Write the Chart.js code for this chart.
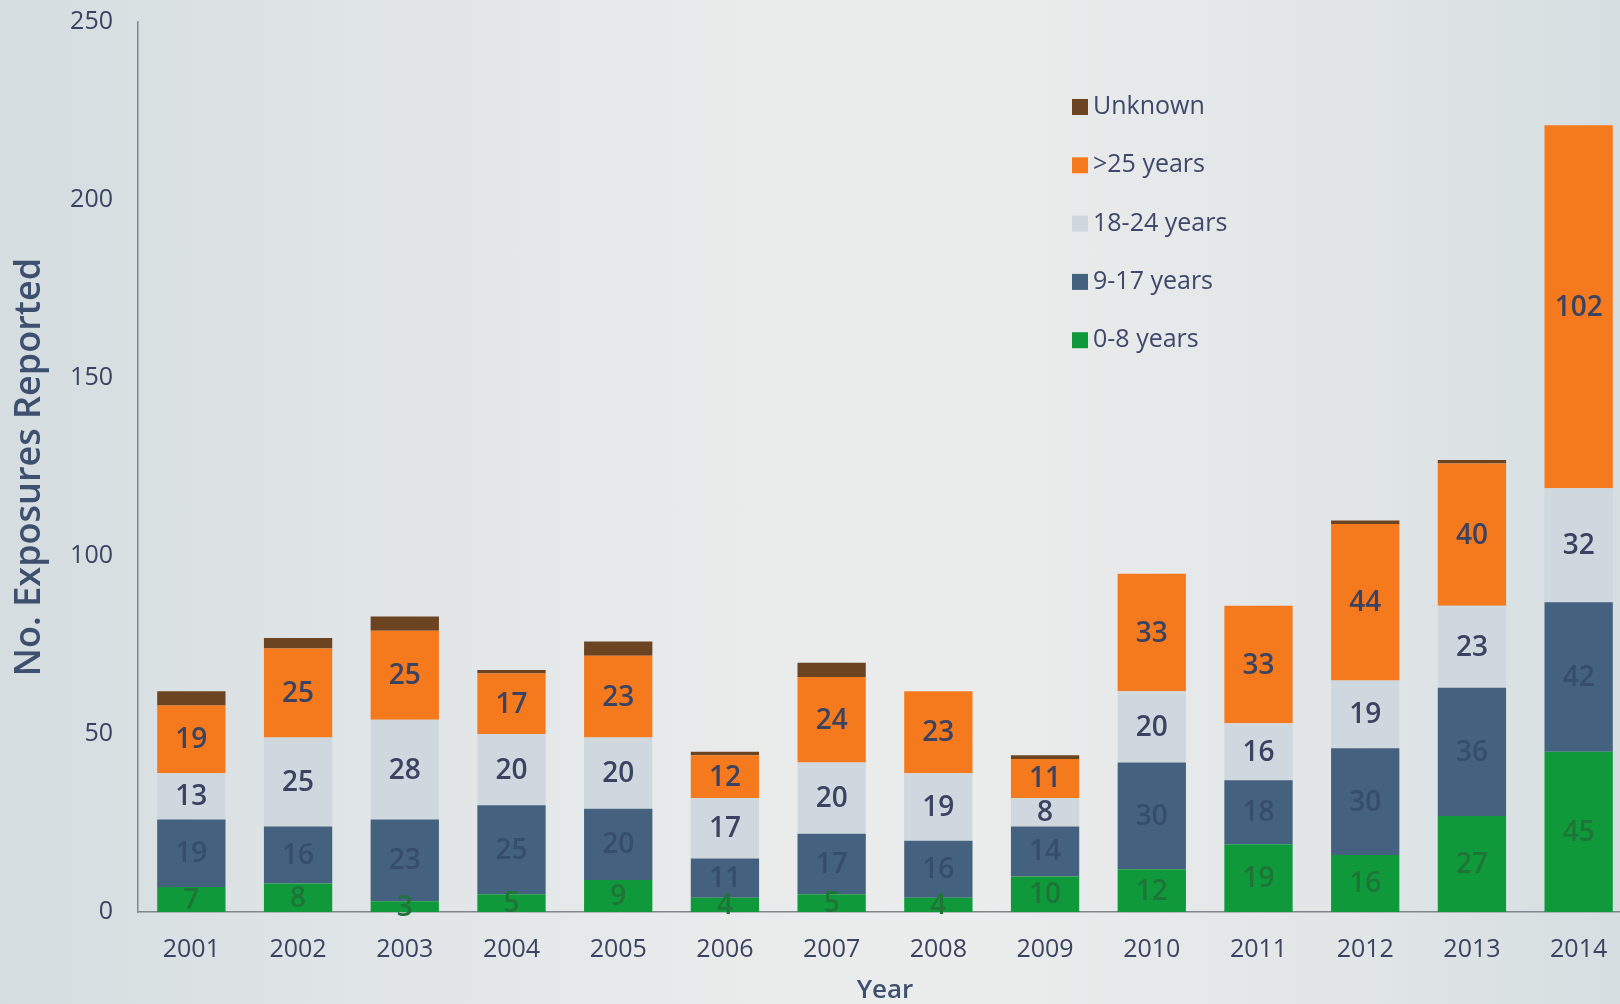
<!DOCTYPE html>
<html>
<head>
<meta charset="utf-8">
<title>No. Exposures Reported by Year</title>
<script src="https://cdn.jsdelivr.net/npm/chart.js@4.4.1/dist/chart.umd.min.js"></script>
<style>
  html, body {
    margin: 0;
    padding: 0;
    width: 1620px;
    height: 1004px;
    overflow: hidden;
    background: linear-gradient(to right, #d5dde0 0%, #dfe4e6 20%, #e9ebeb 45%, #ebecec 60%, #e2e6e7 82%, #d6dee1 100%);
  }
  #wrap {
    position: absolute;
    left: 0;
    top: 0;
    width: 1640px;
    height: 1004px;
  }
</style>
</head>
<body>
<div id="wrap"><canvas id="chart" width="1640" height="1004"></canvas></div>
<script>
// data
const years = ['2001', '2002', '2003', '2004', '2005', '2006', '2007', '2008', '2009', '2010', '2011', '2012', '2013', '2014'];
const age0to8 = [7, 8, 3, 5, 9, 4, 5, 4, 10, 12, 19, 16, 27, 45];
const age9to17 = [19, 16, 23, 25, 20, 11, 17, 16, 14, 30, 18, 30, 36, 42];
const age18to24 = [13, 25, 28, 20, 20, 17, 20, 19, 8, 20, 16, 19, 23, 32];
const ageOver25 = [19, 25, 25, 17, 23, 12, 24, 23, 11, 33, 33, 44, 40, 102];
const ageUnknown = [4, 3, 4, 1, 4, 1, 4, 0, 1, 0, 0, 1, 1, 0];
const yTicks = [0, 50, 100, 150, 200, 250];

const textColor = '#3a4361';
const axisColor = '#80868d';

Chart.defaults.font.family = '"Open Sans", "DejaVu Sans", sans-serif';
Chart.defaults.color = textColor;

// values in the middle of each segment
const segmentLabels = {
  id: 'segmentLabels',
  afterDatasetsDraw(chart) {
    const ctx = chart.ctx;
    ctx.save();
    ctx.font = '600 28px "Open Sans", sans-serif';
    ctx.textAlign = 'center';
    ctx.textBaseline = 'middle';
    chart.data.datasets.forEach((ds, i) => {
      if (!ds.labelColor) return;
      const meta = chart.getDatasetMeta(i);
      meta.data.forEach((bar, j) => {
        const v = ds.data[j];
        if (!v) return;
        ctx.fillStyle = ds.labelColor;
        ctx.fillText(String(v), bar.x, (bar.y + bar.base) / 2 + 1);
      });
    });
    ctx.restore();
  }
};

// vertical legend inside the plot, top item first
const boxLegend = {
  id: 'boxLegend',
  afterDraw(chart, args, opts) {
    const ctx = chart.ctx;
    ctx.save();
    ctx.font = '25px "Open Sans", sans-serif';
    ctx.textBaseline = 'middle';
    ctx.textAlign = 'left';
    const items = chart.data.datasets.slice().reverse();
    items.forEach((ds, k) => {
      const cy = opts.y + k * opts.step;
      ctx.fillStyle = ds.backgroundColor;
      ctx.fillRect(opts.x, cy - opts.box / 2, opts.box, opts.box);
      ctx.fillStyle = '#3d486a';
      ctx.fillText(ds.label, opts.x + opts.box + 5, cy);
    });
    ctx.restore();
  }
};

new Chart(document.getElementById('chart'), {
  type: 'bar',
  data: {
    labels: years,
    datasets: [
      { label: '0-8 years', data: age0to8, backgroundColor: '#0f993b', labelColor: '#1f7438' },
      { label: '9-17 years', data: age9to17, backgroundColor: '#44617f', labelColor: '#364d6c' },
      { label: '18-24 years', data: age18to24, backgroundColor: '#cfd8de', labelColor: textColor },
      { label: '>25 years', data: ageOver25, backgroundColor: '#f57a1e', labelColor: textColor },
      { label: 'Unknown', data: ageUnknown, backgroundColor: '#6d4422' }
    ]
  },
  options: {
    responsive: false,
    animation: false,
    devicePixelRatio: 1,
    layout: { padding: { left: 0, right: 8, top: 22, bottom: 0 } },
    datasets: {
      bar: { categoryPercentage: 0.64, barPercentage: 1, borderWidth: 0 }
    },
    scales: {
      x: {
        stacked: true,
        grid: { display: false, drawTicks: false },
        border: { display: true, color: axisColor, width: 1.5 },
        ticks: { font: { size: 25 }, color: textColor, padding: 23, maxRotation: 0 },
        title: {
          display: true,
          text: 'Year',
          font: { size: 26, weight: '600', lineHeight: 1 },
          color: '#3d5070',
          padding: { top: 0, bottom: 0 }
        },
        afterFit: (scale) => { scale.height = 92; }
      },
      y: {
        stacked: true,
        min: 0,
        max: 250,
        afterBuildTicks: (scale) => { scale.ticks = yTicks.map((v) => ({ value: v })); },
        grid: { display: false, drawTicks: false },
        border: { display: true, color: axisColor, width: 1.5 },
        ticks: { font: { size: 25 }, color: textColor, padding: 25 },
        title: {
          display: true,
          text: 'No. Exposures Reported',
          font: { size: 36, weight: '600' },
          color: '#3d5070',
          padding: { top: 8, bottom: 0 }
        },
        afterFit: (scale) => {
          scale.width = 138;
          scale.paddingTop = 0;
          scale.paddingBottom = 0;
        }
      }
    },
    plugins: {
      legend: { display: false },
      tooltip: { enabled: false },
      boxLegend: { x: 1072, y: 107, step: 58.3, box: 16 }
    }
  },
  plugins: [segmentLabels, boxLegend]
});
</script>
</body>
</html>
